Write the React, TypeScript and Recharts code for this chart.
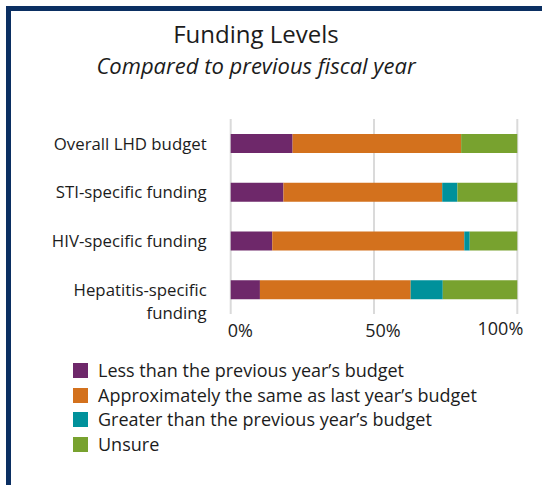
import React from 'react';
import { BarChart, Bar, XAxis, YAxis, CartesianGrid, Legend } from 'recharts';

const categories = ['Overall LHD budget', 'STI-specific funding', 'HIV-specific funding', 'Hepatitis-specific funding'];
const lessValues = [21.6, 18.4, 14.5, 10.2];
const sameValues = [58.8, 55.4, 67.0, 52.6];
const greaterValues = [0, 5.3, 1.9, 11.2];
const unsureValues = [19.6, 20.9, 16.6, 26.0];
const xTicks = [0, 50, 100];
const seriesNames = [
  'Less than the previous year\u2019s budget',
  'Approximately the same as last year\u2019s budget',
  'Greater than the previous year\u2019s budget',
  'Unsure',
];
const seriesKeys = ['less', 'same', 'greater', 'unsure'];
const seriesColors = ['#6e286a', '#d3711d', '#00919b', '#78a22f'];

const data = categories.map((name, i) => ({
  name,
  less: lessValues[i],
  same: sameValues[i],
  greater: greaterValues[i],
  unsure: unsureValues[i],
}));

const FONT = '"Open Sans", "Noto Sans", sans-serif';
const TEXT = '#1c1c1c';

const YTick = (props: any) => {
  const { x, y, payload } = props;
  const label: string = String(payload.value);
  let lines = [label];
  if (label.length > 22) {
    const idx = label.lastIndexOf(' ');
    lines = [label.slice(0, idx), label.slice(idx + 1)];
  }
  return (
    <text x={x - 24} y={y} textAnchor="end" fontFamily={FONT} fontSize={16.8} fill={TEXT}>
      {lines.map((l, i) => (
        <tspan key={i} x={x - 24} dy={i === 0 ? 6.3 : 23}>
          {l}
        </tspan>
      ))}
    </text>
  );
};

const XTick = (props: any) => {
  const { x, y, payload } = props;
  const v = Number(payload.value);
  let anchor: 'start' | 'middle' | 'end' = 'middle';
  let dx = 9;
  let dy = 23;
  if (v === 0) {
    anchor = 'start';
    dx = -3;
  } else if (v === 100) {
    anchor = 'end';
    dx = 6;
    dy = 21;
  }
  return (
    <text x={x + dx} y={y + dy} textAnchor={anchor} fontFamily={FONT} fontSize={18} fill={TEXT}>
      {`${v}%`}
    </text>
  );
};

const LegendContent = (props: any) => {
  const payload = [...(props.payload || [])].sort(
    (a: any, b: any) => seriesNames.indexOf(a.value) - seriesNames.indexOf(b.value)
  );
  return (
    <div style={{ fontFamily: FONT }}>
      {payload.map((p: any, i: number) => (
        <div key={i} style={{ position: 'relative', height: 24.5 }}>
          <div style={{ position: 'absolute', left: 0, top: 3, width: 15, height: 15, background: p.color }} />
          <svg style={{ position: 'absolute', left: 22, top: 0, overflow: 'visible' }} width={420} height={24}>
            <text x={3} y={17} fontFamily={FONT} fontSize={18} fill={TEXT}>
              {p.value}
            </text>
          </svg>
        </div>
      ))}
    </div>
  );
};

export default function App() {
  return (
    <div style={{ position: 'absolute', left: 0, top: 0, width: 542, height: 485, background: '#fff', overflow: 'hidden', fontFamily: FONT }}>
      <div
        style={{
          position: 'absolute',
          left: 6,
          top: 6,
          width: 542,
          height: 485,
          borderLeft: '5px solid #0b2f62',
          borderTop: '5px solid #0b2f62',
        }}
      />
      <svg style={{ position: 'absolute', left: 0, top: 0 }} width={542} height={90}>
        <text x={256} y={43} textAnchor="middle" fontFamily={FONT} fontSize={24} fill={TEXT}>
          Funding Levels
        </text>
        <text x={256} y={74} textAnchor="middle" fontFamily={FONT} fontSize={22} fontStyle="italic" fill={TEXT}>
          Compared to previous fiscal year
        </text>
      </svg>
      <div style={{ position: 'absolute', left: 0, top: 0 }}>
        <BarChart
          width={542}
          height={485}
          data={data}
          layout="vertical"
          margin={{ top: 119, right: 24.7, bottom: 141, left: 10.7 }}
          barSize={19}
        >
          <CartesianGrid horizontal={false} stroke="#dadada" strokeWidth={2} />
          <XAxis
            type="number"
            domain={[0, 100]}
            ticks={xTicks}
            axisLine={false}
            tickLine={false}
            tickSize={0}
            tickMargin={0}
            height={30}
            tick={<XTick />}
            interval={0}
          />
          <YAxis
            type="category"
            dataKey="name"
            width={220}
            axisLine={false}
            tickLine={false}
            tickSize={0}
            tickMargin={0}
            tick={<YTick />}
            interval={0}
          />
          {seriesKeys.map((k, i) => (
            <Bar key={k} dataKey={k} name={seriesNames[i]} stackId="a" fill={seriesColors[i]} isAnimationActive={false} />
          ))}
          <Legend
            layout="vertical"
            align="center"
            verticalAlign="middle"
            content={<LegendContent />}
            wrapperStyle={{ left: 73, top: 360, width: 460, height: 100 }}
          />
        </BarChart>
      </div>
    </div>
  );
}
